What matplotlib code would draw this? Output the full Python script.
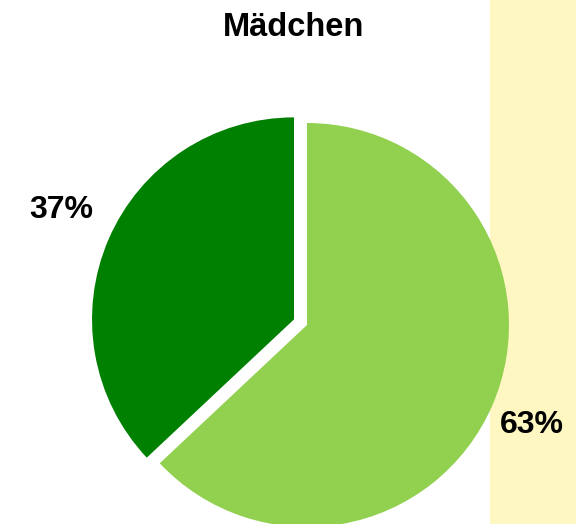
import matplotlib.pyplot as plt
from matplotlib.patches import Rectangle

plt.rcParams['font.family'] = ['Liberation Sans', 'DejaVu Sans']

title = "Mädchen"
labels = ["63%", "37%"]
values = [63, 37]
colors = ["#92D050", "#008000"]
explode = [0, 0.07]

W, H = 576, 524
R = 202.0
cx, cy = 307, 325  # pie centre in pixels from top-left

fig = plt.figure(figsize=(W / 100, H / 100), dpi=100)
fig.patch.set_facecolor("white")
ax = fig.add_axes([0, 0, 1, 1])
ax.set_xlim(-cx / R, (W - cx) / R)
ax.set_ylim(-(H - cy) / R, cy / R)
ax.set_aspect("auto")
ax.axis("off")

# yellow slide background on the right
ax.add_patch(Rectangle((490 / R - cx / R, -(H - cy) / R), 10, 10,
                       facecolor="#FFF7C1", edgecolor="none", zorder=0))

wedges, _ = ax.pie(values, colors=colors, explode=explode, startangle=90,
                   counterclock=False, radius=1.0, frame=True)
for w in wedges:
    w.set_zorder(2)
ax.set_xlim(-cx / R, (W - cx) / R)
ax.set_ylim(-(H - cy) / R, cy / R)
ax.set_aspect("auto")
ax.axis("off")

# labels
fig.text(532 / W, 1 - 425 / H, labels[0], ha="center", va="center",
         fontsize=23, fontweight="bold")
fig.text(61.5 / W, 1 - 210 / H, labels[1], ha="center", va="center",
         fontsize=23, fontweight="bold")
fig.text(294 / W, 1 - 27 / H, title, ha="center", va="center",
         fontsize=23.5, fontweight="bold")

fig.savefig("out.png", dpi=100)
